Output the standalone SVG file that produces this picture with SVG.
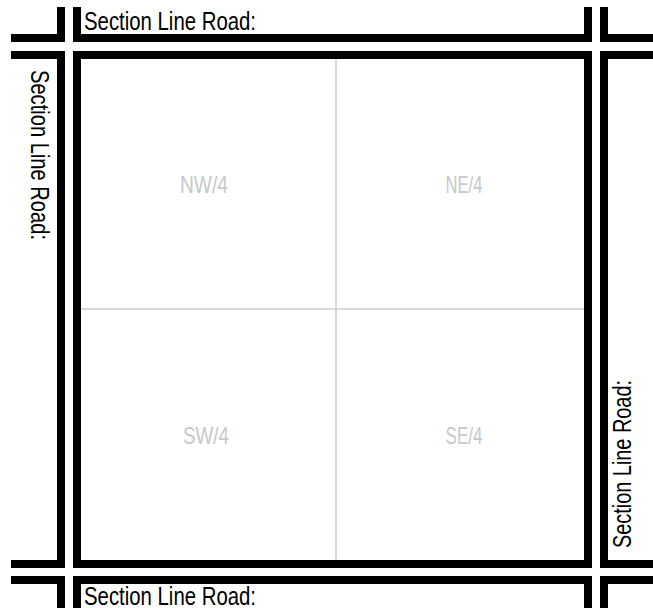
<svg xmlns="http://www.w3.org/2000/svg" width="653" height="608" viewBox="0 0 653 608">
<style>
.road{fill:#000}
.lbl{font-family:"Liberation Sans",Arial,sans-serif;font-size:25px;fill:#000}
.q{font-family:"Liberation Sans",Arial,sans-serif;font-size:24px;fill:#c8c8c8;text-anchor:middle}
.grid{stroke:#d9d9d9;stroke-width:2;fill:none}
</style>
<rect width="653" height="608" fill="#fff"/>
<g id="roads">
<rect class="road" x="11" y="34" width="54" height="8"/>
<rect class="road" x="57" y="7" width="8" height="35"/>
<rect class="road" x="73" y="34" width="519" height="8"/>
<rect class="road" x="73" y="7" width="8" height="35"/>
<rect class="road" x="584" y="7" width="8" height="35"/>
<rect class="road" x="600" y="34" width="53" height="8"/>
<rect class="road" x="600" y="7" width="8" height="35"/>
<rect class="road" x="11" y="51" width="54" height="8"/>
<rect class="road" x="57" y="51" width="8" height="517"/>
<rect class="road" x="11" y="560" width="54" height="8"/>
<rect class="road" x="600" y="51" width="53" height="8"/>
<rect class="road" x="600" y="51" width="8" height="517"/>
<rect class="road" x="600" y="560" width="53" height="8"/>
<rect class="road" x="11" y="576" width="54" height="8"/>
<rect class="road" x="57" y="576" width="8" height="32"/>
<rect class="road" x="73" y="576" width="519" height="8"/>
<rect class="road" x="73" y="576" width="8" height="32"/>
<rect class="road" x="584" y="576" width="8" height="32"/>
<rect class="road" x="600" y="576" width="53" height="8"/>
<rect class="road" x="600" y="576" width="8" height="32"/>
</g>
<g id="section">
<line class="grid" x1="336" y1="59" x2="336" y2="560"/>
<line class="grid" x1="81" y1="309" x2="584" y2="309"/>
<rect x="77" y="55" width="511" height="509" fill="none" stroke="#000" stroke-width="8"/>
</g>
<g id="nw"><text class="q" x="204" y="193" textLength="48" lengthAdjust="spacingAndGlyphs">NW/4</text></g>
<g id="ne"><text class="q" x="464" y="193" textLength="37" lengthAdjust="spacingAndGlyphs">NE/4</text></g>
<g id="sw"><text class="q" x="206" y="444" textLength="46" lengthAdjust="spacingAndGlyphs">SW/4</text></g>
<g id="se"><text class="q" x="464" y="444" textLength="37" lengthAdjust="spacingAndGlyphs">SE/4</text></g>
<g id="labels">
<text class="lbl" x="84" y="30" textLength="172" lengthAdjust="spacingAndGlyphs">Section Line Road:</text>
<text class="lbl" x="84" y="605" textLength="172" lengthAdjust="spacingAndGlyphs">Section Line Road:</text>
<text class="lbl" transform="translate(31,70) rotate(90)" textLength="170" lengthAdjust="spacingAndGlyphs">Section Line Road:</text>
<text class="lbl" transform="translate(631,548) rotate(-90)" textLength="168" lengthAdjust="spacingAndGlyphs">Section Line Road:</text>
</g>
</svg>
